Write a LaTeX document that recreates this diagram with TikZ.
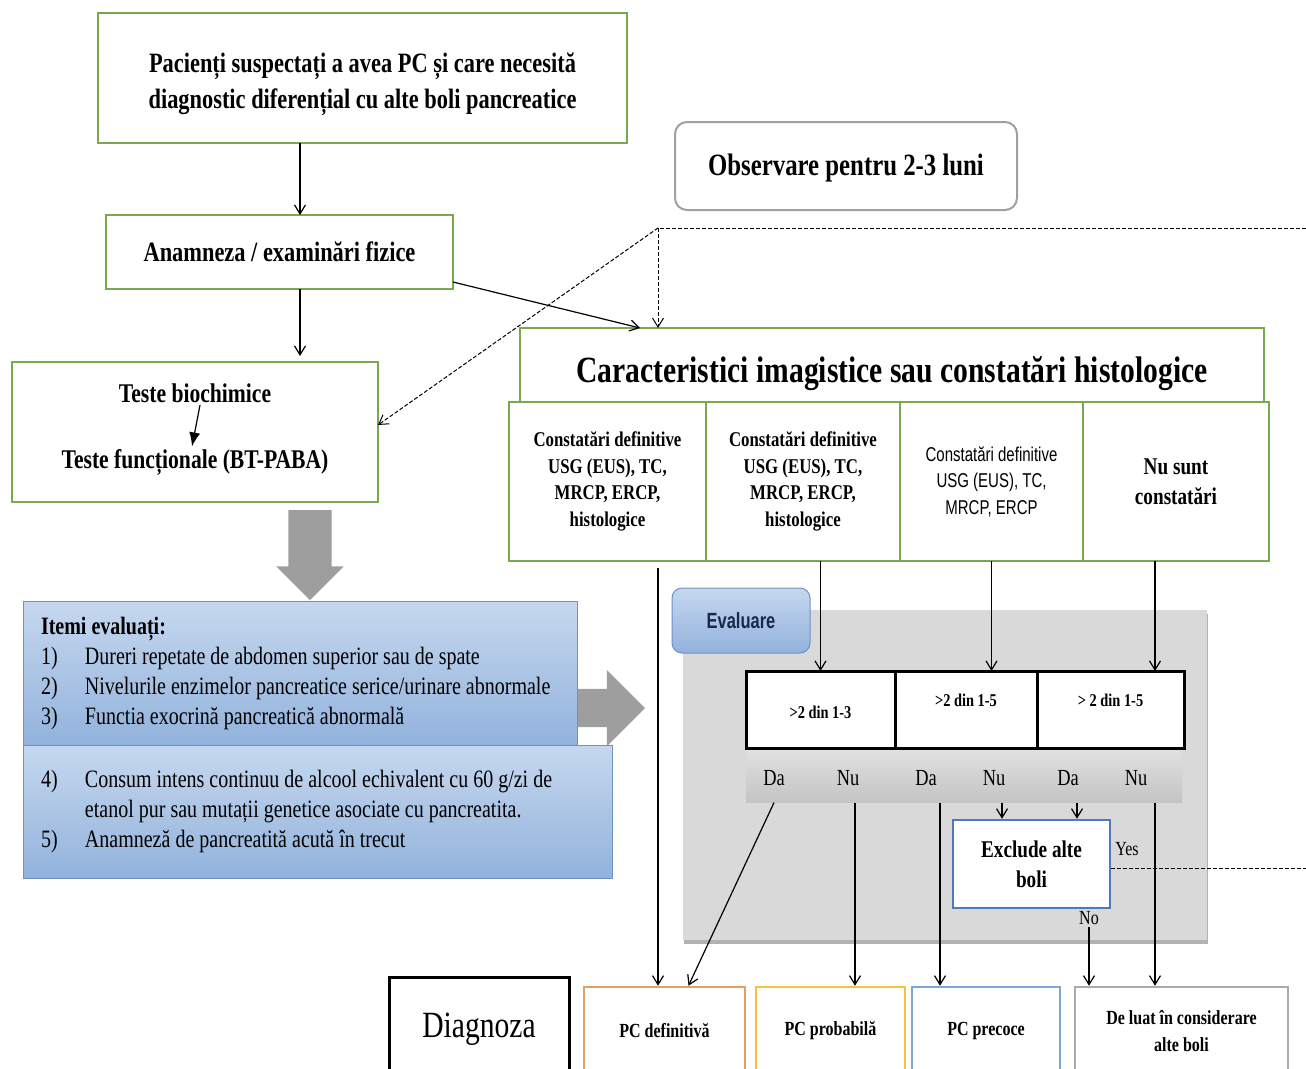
\documentclass[tikz,border=0pt]{standalone}
\usepackage{fontspec}
\setmainfont{Liberation Serif}[FakeStretch=0.8]
\newfontfamily\narrowsans{Liberation Sans}[FakeStretch=0.75]
\usepackage{xcolor}
\usepackage{tikz}
\usetikzlibrary{positioning}
\usetikzlibrary{shapes,calc,arrows.meta,shadows}

\definecolor{boxgreen}{RGB}{122,168,78}
\definecolor{itemblueA}{RGB}{198,216,239}
\definecolor{itemblueB}{RGB}{146,178,220}
\definecolor{itemborder}{RGB}{110,145,195}
\definecolor{blockgray}{RGB}{158,158,158}
\definecolor{panelgray}{RGB}{217,217,217}
\definecolor{bandgray}{RGB}{196,196,196}
\definecolor{exclblue}{RGB}{79,120,190}
\definecolor{evaltext}{RGB}{25,40,75}
\definecolor{defcol}{RGB}{226,160,100}
\definecolor{probcol}{RGB}{243,196,60}
\definecolor{preccol}{RGB}{126,166,210}
\definecolor{othercol}{RGB}{170,170,170}
\definecolor{obsgray}{RGB}{160,160,160}

\begin{document}
\begin{tikzpicture}[x=1pt,y=-1pt,>={Straight Barb[length=9pt,width=11pt]},line width=1.2pt,
  green box/.style={draw=boxgreen,line width=2.6pt,fill=white,inner sep=0pt,outer sep=0pt,align=center,
    font=\bfseries\fontsize{28}{36}\selectfont},
  col box/.style={green box,minimum width=#1,minimum height=159pt,
    font=\bfseries\fontsize{21}{26.5}\selectfont},
  item box/.style={draw=itemborder,line width=1pt,top color=itemblueA,bottom color=itemblueB,
    inner sep=0pt,font=\fontsize{25}{30}\selectfont},
  crit cell/.style={draw,line width=3pt,fill=white,minimum height=77pt,minimum width=#1,inner sep=0pt,outer sep=0pt},
  crit text/.style={font=\bfseries\fontsize{18}{20}\selectfont},
  band text/.style={font=\fontsize{23}{26}\selectfont},
  diag box/.style={draw=#1,line width=2.5pt,fill=white,minimum height=88pt,align=center,inner sep=0pt,
    font=\bfseries\fontsize{20}{27}\selectfont},
  block arrow/.style={single arrow,fill=blockgray,outer sep=0pt},
  dash line/.style={dash pattern=on 4pt off 2pt,line width=1pt}]
  \useasboundingbox (0,0) rectangle (1306,1068);
  \clip (0,0) rectangle (1306,1068);

  % left column
  \node[green box,minimum width=529pt,minimum height=130pt] (pac) at (362.5,78)
    {\rule{0pt}{32pt}Pacienți suspectați a avea PC și care necesită\\diagnostic diferențial cu alte boli pancreatice};
  \node[green box,minimum width=347pt,minimum height=74pt] (anam) at (279.5,252) {Anamneza / examinări fizice};
  \node[green box,minimum width=366pt,minimum height=140pt] (tests) at (195,432) {};
  \node[inner sep=2pt,font=\bfseries\fontsize{27}{30}\selectfont] (bio) at (195,393) {Teste biochimice};
  \node[inner sep=2pt,font=\bfseries\fontsize{27}{30}\selectfont] (func) at (195,462) {Teste funcționale (BT-PABA)};
  \draw[-{Latex[length=14pt,width=11pt]}] ($(bio.south)+(5,0)$) -- ($(func.north)+(-3,0)$);

  \draw[->] (pac.south -| 300,0) -- (anam.north -| 300,0);
  \draw[->,shorten >=6pt] (anam.south -| 300,0) -- (tests.north -| 300,0);

  % block arrows
  \node[block arrow,minimum height=90pt,inner sep=21pt,single arrow head extend=12pt,
    shape border rotate=270,anchor=tail] (down) at (310,510) {};
  \node[block arrow,minimum height=70pt,inner sep=18.5pt,single arrow head extend=19pt,
    anchor=tail] (toeval) at (575,708) {};

  % items
  \node[item box,minimum width=554pt,minimum height=144pt] (itemsA) at (300,673)
    {\begin{tabular}{@{}p{44pt}@{}p{474pt}@{}}
      \multicolumn{2}{@{}l@{}}{\bfseries Itemi evaluați:}\\
      1) & Dureri repetate de abdomen superior sau de spate\\
      2) & Nivelurile enzimelor pancreatice serice/urinare abnormale\\
      3) & Functia exocrină pancreatică abnormală
    \end{tabular}};
  \node[item box,minimum width=589pt,minimum height=133pt] (itemsB) at (317.5,811.5)
    {\begin{tabular}{@{}p{44pt}@{}p{509pt}@{}}
      4) & Consum intens continuu de alcool echivalent cu 60 g/zi de\\
         & etanol pur sau mutații genetice asociate cu pancreatita.\\
      5) & Anamneză de pancreatită acută în trecut
    \end{tabular}};

  % imaging
  \node[draw=obsgray,line width=2pt,rounded corners=12pt,minimum width=342pt,minimum height=88pt,
    text height=26pt,font=\bfseries\fontsize{31}{34}\selectfont] (obs) at (846,166) {Observare pentru 2-3 luni};
  \node[green box,minimum width=744pt,minimum height=74pt,text height=43pt,
    font=\bfseries\fontsize{37}{40}\selectfont] (car) at (892,365) {Caracteristici imagistice sau constatări histologice};
  \node[col box=197pt] (col1) at (607.5,481.5) {Constatări definitive\\USG (EUS), TC,\\MRCP, ERCP,\\histologice};
  \node[col box=194pt,right=0pt of col1] (col2) {Constatări definitive\\USG (EUS), TC,\\MRCP, ERCP,\\histologice};
  \node[col box=183pt,right=0pt of col2,font=\narrowsans\fontsize{20}{26.5}\selectfont] (col3)
    {Constatări definitive\\USG (EUS), TC,\\MRCP, ERCP};
  \node[col box=186pt,right=0pt of col3,font=\bfseries\fontsize{24}{30}\selectfont] (col4) {Nu sunt\\constatări};

  \coordinate (obsjoin) at (658,228);
  \coordinate (obsend) at (1306,228);
  \draw[->] ($(anam.south east)+(0,-7)$) -- (car.north -| 640,0);
  \draw[dash line] (obsend) -- (obsjoin);
  \draw[dash line,->] (obsjoin) -- (car.north -| obsjoin);
  \draw[dash line,->] (obsjoin) -- ($(tests.east)+(0,-7)$);

  % evaluation
  \node[fill=panelgray,minimum width=524pt,minimum height=330pt,inner sep=0pt,
    drop shadow={shadow xshift=1pt,shadow yshift=-4pt,fill=black!60,opacity=0.5}] (panel) at (945,775) {};
  \node[draw=itemborder,line width=1pt,rounded corners=10pt,top color=itemblueA,bottom color=itemblueB,
    minimum width=138pt,minimum height=65pt,text=evaltext,
    font=\narrowsans\bfseries\fontsize{22}{26}\selectfont] (eval) at (741,620.5) {Evaluare};

  \node[top color=bandgray!50,bottom color=bandgray,minimum width=436pt,minimum height=54pt,inner sep=0pt]
    (band) at (964,775) {};
  \node[crit cell=149pt] (crit1) at (820.5,709.5) {};
  \node[crit cell=142pt,right=0pt of crit1] (crit2) {};
  \node[crit cell=147pt,right=0pt of crit2] (crit3) {};
  \node[crit text] (critA) at (820.5,712) {>2 din 1-3};
  \node[crit text] (critB) at (966,700) {>2 din 1-5};
  \node[crit text] (critC) at (1110.5,700) {> 2 din 1-5};

  \node[band text] (da1) at (774,778) {Da};
  \node[band text] (nu1) at (848,778) {Nu};
  \node[band text] (da2) at (926,778) {Da};
  \node[band text] (nu2) at (994,778) {Nu};
  \node[band text] (da3) at (1068,778) {Da};
  \node[band text] (nu3) at (1136,778) {Nu};

  \node[draw=exclblue,line width=2.5pt,fill=white,minimum width=157pt,minimum height=88pt,align=center,
    inner sep=0pt,font=\bfseries\fontsize{24}{30}\selectfont] (excl) at (1031.5,864) {Exclude alte\\boli};
  \node[font=\fontsize{20}{24}\selectfont] (yes) at (1127,849) {Yes};
  \node[font=\fontsize{20}{24}\selectfont,inner sep=2pt] (no) at (1089,918) {No};
  \coordinate (yesend) at (1306,868);

  % diagnosis
  \node[draw,line width=3pt,fill=white,minimum width=180pt,minimum height=98pt,text height=30pt,
    font=\fontsize{37}{40}\selectfont] (diag) at (479,1026) {Diagnoza};
  \node[diag box=defcol,minimum width=161pt] (defin) at (664.5,1031) {PC definitivă};
  \node[diag box=probcol,minimum width=149pt] (prob) at (830.5,1031) {PC probabilă};
  \node[diag box=preccol,minimum width=148pt] (prec) at (986,1031) {PC precoce};
  \node[diag box=othercol,minimum width=213pt] (other) at (1181.5,1031) {De luat în  considerare\\alte boli};

  \draw[->,shorten <=7pt] (col1.south -| obsjoin) -- (defin.north -| obsjoin);
  \draw[->] (col2.south -| crit1) -- (crit1.north);
  \draw[->] (col3.south) -- (col3.south |- crit2.north);
  \draw[->] (col4.south -| 1155,0) -- (crit3.north -| 1155,0);

  \draw[->] (band.south -| da1) -- ($(defin.north)+(24,0)$);
  \draw[->] (band.south -| 855,0) -- (prob.north -| 855,0);
  \draw[->] (band.south -| 940,0) -- (prec.north -| 940,0);
  \draw[->] (band.south -| 1002,0) -- (excl.north -| 1002,0);
  \draw[->] (band.south -| 1077,0) -- (excl.north -| 1077,0);
  \draw[->] (band.south -| 1155,0) -- (other.north -| 1155,0);
  \draw[->] (no) -- (other.north -| no);
  \draw[dash line] (excl.east |- yesend) -- (yesend);
\end{tikzpicture}
\end{document}
